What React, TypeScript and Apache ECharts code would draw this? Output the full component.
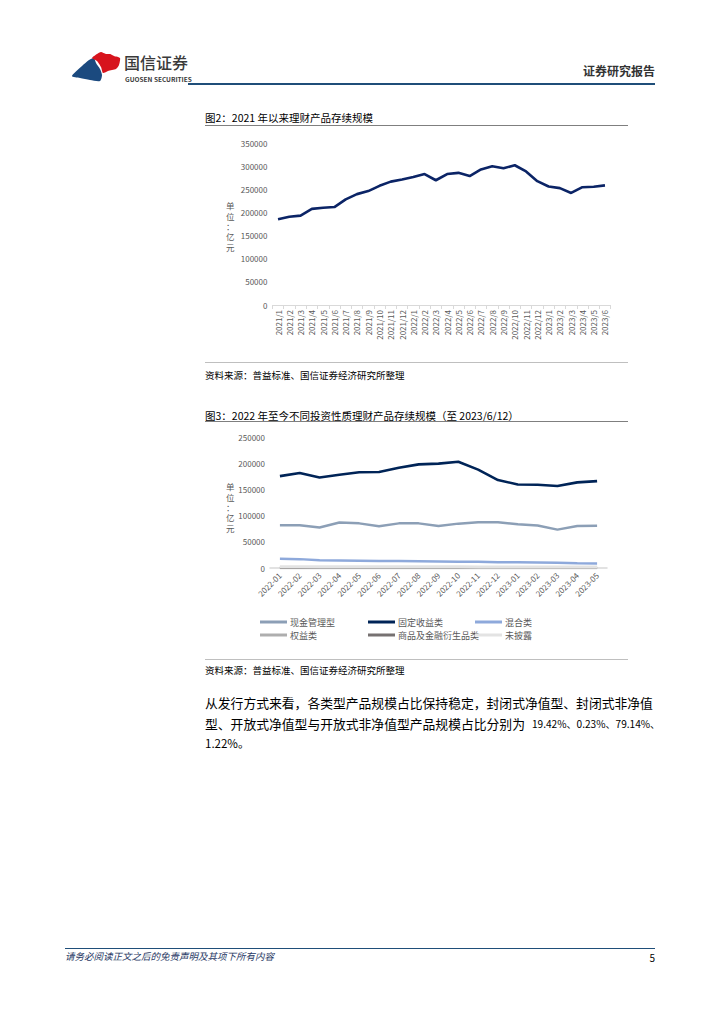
import React, { useEffect, useRef } from "react";
import * as echarts from "echarts";

const cats1 = [
  "2021/1", "2021/2", "2021/3", "2021/4", "2021/5", "2021/6", "2021/7", "2021/8", "2021/9", "2021/10",
  "2021/11", "2021/12", "2022/1", "2022/2", "2022/3", "2022/4", "2022/5", "2022/6", "2022/7", "2022/8",
  "2022/9", "2022/10", "2022/11", "2022/12", "2023/1", "2023/2", "2023/3", "2023/4", "2023/5", "2023/6",
];
const scale1 = [
  185500, 191000, 193500, 208000, 210500, 212000, 228500, 240000, 246500, 258000,
  267000, 271500, 277000, 283500, 270000, 283500, 286000, 279000, 293500, 300500,
  296000, 302500, 289000, 268000, 256500, 253000, 242500, 255000, 256000, 259000,
];

const cats2 = [
  "2022-01", "2022-02", "2022-03", "2022-04", "2022-05", "2022-06", "2022-07", "2022-08", "2022-09",
  "2022-10", "2022-11", "2022-12", "2023-01", "2023-02", "2023-03", "2023-04", "2023-05",
];
const cashMgmt = [82000, 82000, 77500, 87000, 85500, 80000, 85500, 85500, 80500, 85000, 87500, 87500, 84000, 81500, 73500, 80500, 81000];
const fixedIncome = [176000, 182000, 173500, 178500, 183500, 184000, 192000, 198500, 200000, 203500, 188500, 168500, 160000, 159500, 157000, 164000, 166500];
const mixed = [17500, 17000, 15000, 14500, 14000, 13500, 13300, 13000, 12500, 12000, 11800, 11000, 10800, 10500, 10000, 9000, 8800];
const equity = [1200, 1200, 1100, 1100, 1000, 1000, 1000, 1000, 900, 900, 900, 900, 800, 800, 800, 800, 800];
const commodity = [200, 200, 200, 200, 200, 200, 200, 200, 200, 200, 200, 200, 200, 200, 200, 200, 200];
const undisclosed = [2500, 2500, 2400, 2400, 2300, 2300, 2300, 2200, 2200, 2200, 2100, 2100, 2000, 2000, 2000, 1900, 1900];

const FONT = "'Noto Sans CJK SC', 'Noto Sans', sans-serif";
const GRAY = "#595959";

export default function App() {
  const ref = useRef<HTMLDivElement>(null);
  useEffect(() => {
    if (!ref.current) return;
    const chart = echarts.init(ref.current, null, { renderer: "svg" });
    const unitText = (y0: number) => ({
      type: "text",
      x: 226,
      y: y0,
      style: { text: "单\n位\n：\n亿\n元", font: `8.5px ${FONT}`, lineHeight: 10.4, fill: GRAY, verticalAlign: "top" },
    });
    const txt = (x: number, y: number, text: string, font: string, fill = "#000", align = "left") => ({
      type: "text",
      x,
      y,
      style: { text, font, fill, align, verticalAlign: "middle" },
    });
    const hline = (x1: number, x2: number, y: number, stroke: string, w = 1) => ({
      type: "line",
      shape: { x1, y1: y, x2, y2: y },
      style: { stroke, lineWidth: w },
    });
    const lineSeries = (name: string, data: number[], color: string, w = 2.5) => ({
      name,
      type: "line",
      xAxisIndex: 1,
      yAxisIndex: 1,
      data,
      symbol: "none",
      lineStyle: { color, width: w },
      itemStyle: { color },
    });
    const legend = (left: number, names: string[]) => ({
      orient: "vertical",
      left,
      top: 612,
      itemWidth: 27,
      itemHeight: 3,
      itemGap: 3,
      icon: "rect",
      data: names,
      textStyle: { fontSize: 9, color: GRAY, fontFamily: FONT, padding: [0, 0, 0, -2], lineHeight: 10 },
    });
    const plain = (v: number) => String(v);

    chart.setOption({
      animation: false,
      backgroundColor: "#fff",
      textStyle: { fontFamily: FONT },
      grid: [
        { left: 272.4, right: 113.4, top: 143.3, bottom: 719, containLabel: false },
        { left: 270, right: 117, top: 437.5, bottom: 456, containLabel: false },
      ],
      legend: [
        legend(255, ["现金管理型", "权益类"]),
        legend(363, ["固定收益类", "商品及金融衍生品类"]),
        legend(470, ["混合类", "未披露"]),
      ],
      xAxis: [
        {
          type: "category",
          gridIndex: 0,
          data: cats1,
          boundaryGap: true,
          axisLine: { lineStyle: { color: "#D9D9D9", width: 1 } },
          axisTick: { show: true, length: 4, lineStyle: { color: "#D9D9D9" } },
          axisLabel: { rotate: 90, fontSize: 8, color: GRAY, margin: 5, interval: 0, fontFamily: FONT },
        },
        {
          type: "category",
          gridIndex: 1,
          data: cats2,
          boundaryGap: true,
          axisLine: { lineStyle: { color: "#D9D9D9", width: 1.5 } },
          axisTick: { show: false },
          axisLabel: { rotate: 45, fontSize: 8, color: GRAY, margin: 6, interval: 0, fontFamily: FONT },
        },
      ],
      yAxis: [
        {
          type: "value",
          gridIndex: 0,
          min: 0,
          max: 350000,
          interval: 50000,
          axisLine: { show: false },
          axisTick: { show: false },
          splitLine: { show: false },
          axisLabel: { fontSize: 8, color: GRAY, margin: 5, fontFamily: FONT, formatter: plain },
        },
        {
          type: "value",
          gridIndex: 1,
          min: 0,
          max: 250000,
          interval: 50000,
          axisLine: { show: false },
          axisTick: { show: false },
          splitLine: { show: false },
          axisLabel: { fontSize: 8, color: GRAY, margin: 5, fontFamily: FONT, formatter: plain },
        },
      ],
      series: [
        {
          name: "存续规模",
          type: "line",
          xAxisIndex: 0,
          yAxisIndex: 0,
          data: scale1,
          symbol: "none",
          lineStyle: { color: "#0B2466", width: 2.6 },
          itemStyle: { color: "#0B2466" },
        },
        lineSeries("商品及金融衍生品类", commodity, "#767171", 2.5),
        lineSeries("权益类", equity, "#AEAEAE", 2.5),
        lineSeries("未披露", undisclosed, "#E3E3E3", 3),
        lineSeries("混合类", mixed, "#8EA9DB", 2.5),
        lineSeries("现金管理型", cashMgmt, "#8C9FB6", 2.5),
        lineSeries("固定收益类", fixedIncome, "#002457", 2.6),
      ],
      graphic: [
        // header logo
        {
          type: "polygon",
          shape: {
            points: [[72, 76], [82, 66], [89, 60], [94, 58], [96, 63], [100, 69], [102, 75], [100, 81], [90, 80], [80, 78]],
            smooth: 0.25,
          },
          style: { fill: "#1B4A7F" },
        },
        {
          type: "polygon",
          shape: {
            points: [[92, 58], [97, 54], [101, 52], [106, 54], [110, 54], [114, 56], [120, 58], [119, 65], [116, 69], [108, 71], [103, 73], [101, 67], [97, 61]],
            smooth: 0.2,
          },
          style: { fill: "#D7141D" },
        },
        txt(124, 62, "国信证券", `500 16px ${FONT}`, "#3A3A3A"),
        txt(125, 78.5, "GUOSEN SECURITIES", `bold 6.5px ${FONT}`, "#3A3A3A"),
        txt(655, 70, "证券研究报告", `bold 12px ${FONT}`, "#333", "right"),
        hline(188, 655, 84, "#1F4E79", 2.2),
        // chart 1 frame
        txt(205, 117, "图2：2021 年以来理财产品存续规模", `10.5px ${FONT}`, "#000"),
        hline(205, 628, 125.5, "#7F7F7F", 1),
        hline(205, 628, 362.5, "#BFBFBF", 1),
        txt(205, 375, "资料来源：普益标准、国信证券经济研究所整理", `9.5px ${FONT}`, "#000"),
        unitText(200),
        // chart 2 frame
        txt(205, 415, "图3：2022 年至今不同投资性质理财产品存续规模（至 2023/6/12）", `10.5px ${FONT}`, "#000"),
        hline(205, 628, 421.5, "#7F7F7F", 1),
        hline(205, 628, 659.5, "#BFBFBF", 1),
        txt(205, 670, "资料来源：普益标准、国信证券经济研究所整理", `9.5px ${FONT}`, "#000"),
        unitText(481),
        // body text
        txt(205, 702, "从发行方式来看，各类型产品规模占比保持稳定，封闭式净值型、封闭式非净值", `12.8px ${FONT}`, "#000"),
        txt(205, 723, "型、开放式净值型与开放式非净值型产品规模占比分别为", `12.8px ${FONT}`, "#000"),
        txt(532, 723, "19.42%、0.23%、79.14%、", `10.1px ${FONT}`, "#000"),
        txt(205, 743, "1.22%。", `11.5px ${FONT}`, "#000"),
        // footer
        hline(65, 655, 948.5, "#1F4E79", 1),
        txt(65, 956, "请务必阅读正文之后的免责声明及其项下所有内容", `italic 9.5px ${FONT}`, "#1F3864"),
        txt(655, 957, "5", `10px ${FONT}`, "#000", "right"),
      ],
    });
    return () => chart.dispose();
  }, []);
  return (
    <div
      ref={ref}
      style={{ position: "absolute", left: 0, top: 0, width: 724, height: 1024, background: "#fff" }}
    />
  );
}
